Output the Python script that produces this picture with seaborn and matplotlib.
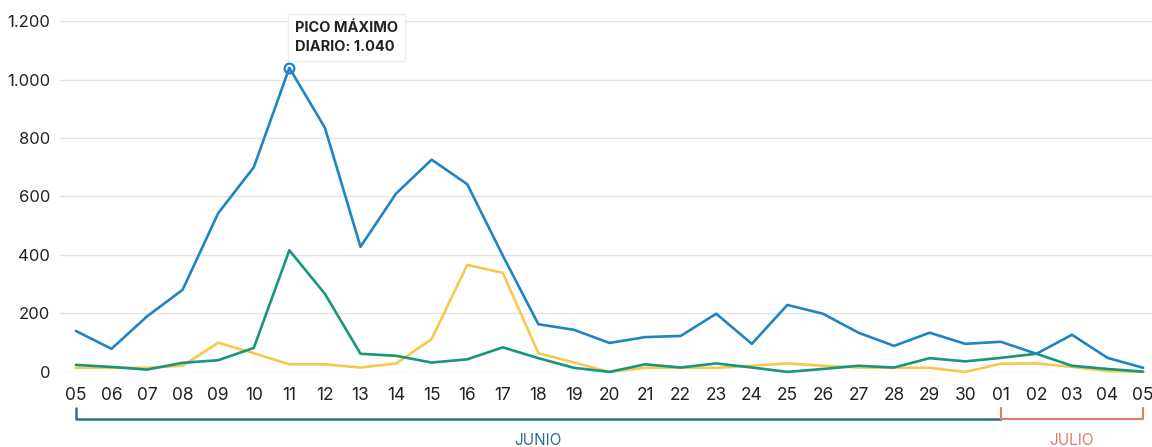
import matplotlib
matplotlib.use("Agg")
import matplotlib.pyplot as plt
import seaborn as sns
import pandas as pd

# dias del 05 de junio al 05 de julio
days = ["05", "06", "07", "08", "09", "10", "11", "12", "13", "14", "15", "16",
        "17", "18", "19", "20", "21", "22", "23", "24", "25", "26", "27", "28",
        "29", "30", "01", "02", "03", "04", "05"]

serie_azul = [140, 79, 190, 281, 543, 700, 1040, 835, 428, 610, 726, 642,
              398, 163, 144, 99, 119, 123, 199, 96, 229, 199, 134, 89,
              134, 96, 103, 62, 127, 48, 14]
serie_verde = [24, 17, 8, 31, 40, 82, 416, 267, 62, 55, 32, 43,
               84, 47, 14, 0, 26, 15, 29, 15, 0, 10, 21, 15,
               47, 36, 48, 62, 21, 10, 1]
serie_amarilla = [14, 14, 14, 21, 100, 64, 26, 26, 15, 29, 112, 366,
                  339, 64, 32, 0, 14, 14, 14, 21, 29, 21, 15, 14,
                  14, 0, 28, 29, 17, 3, 0]

series = {"azul": serie_azul, "verde": serie_verde, "amarilla": serie_amarilla}
colors = {"azul": "#1f84c4", "verde": "#17957f", "amarilla": "#f6c94e"}

rows = []
for name, vals in series.items():
    for i, v in enumerate(vals):
        rows.append({"x": i, "valor": v, "serie": name})
df = pd.DataFrame(rows)

sns.set_style("white")
plt.rcParams["font.family"] = ["Inter", "DejaVu Sans"]

fig = plt.figure(figsize=(11.52, 4.47), dpi=100)
ax = fig.add_axes([0.052, 0.168, 0.948, 0.811])

sns.lineplot(data=df, x="x", y="valor", hue="serie", palette=colors,
             hue_order=["amarilla", "verde", "azul"], linewidth=1.9,
             legend=False, ax=ax)
for line in ax.lines:
    line.set_clip_on(False)

ax.set_xlim(-0.45, 30.25)
ax.set_ylim(0, 1240)
ax.set_yticks([0, 200, 400, 600, 800, 1000, 1200])
ax.set_yticklabels(["0", "200", "400", "600", "800", "1.000", "1.200"])
ax.set_xticks(range(len(days)))
ax.set_xticklabels(days)
ax.yaxis.grid(True, color="#e3e3e3", linewidth=1)
ax.set_axisbelow(True)
for s in ax.spines.values():
    s.set_visible(False)
ax.tick_params(axis="y", length=0, labelsize=12, labelcolor="#222222", pad=7)
ax.tick_params(axis="x", length=7, width=1, color="#e3e3e3", labelsize=12.5,
               labelcolor="#222222", pad=4, direction="out")
ax.set_xlabel("")
ax.set_ylabel("")

# maximo
imax = serie_azul.index(max(serie_azul))
ax.plot(imax, serie_azul[imax], marker="o", markersize=7, markerfacecolor="none",
        markeredgecolor=colors["azul"], markeredgewidth=1.6, clip_on=False)
ax.annotate("PICO MÁXIMO\nDIARIO: 1.040", xy=(imax, serie_azul[imax]),
            xytext=(4, 10), textcoords="offset points", fontsize=10.5,
            fontweight="bold", color="#222222", ha="left", va="bottom",
            linespacing=1.45,
            bbox=dict(boxstyle="square,pad=0.5", fc="white", ec="#eeeeee", lw=1))

# corchetes de meses
trans = ax.get_xaxis_transform()
junio_color = "#2a6f97"
julio_color = "#e07b70"
y_top, y_bot = -0.1, -0.13
ax.plot([0, 0, 26], [y_top, y_bot, y_bot], color=junio_color, lw=1.8,
        transform=trans, clip_on=False)
ax.plot([26, 26, 30, 30], [y_top, y_bot, y_bot, y_top], color=julio_color,
        lw=1.5, transform=trans, clip_on=False)
ax.text(13, -0.19, "JUNIO", color=junio_color, fontsize=11, ha="center",
        va="center", transform=trans)
ax.text(28, -0.19, "JULIO", color=julio_color, fontsize=11, ha="center",
        va="center", transform=trans)

fig.savefig("out.png", dpi=100)
